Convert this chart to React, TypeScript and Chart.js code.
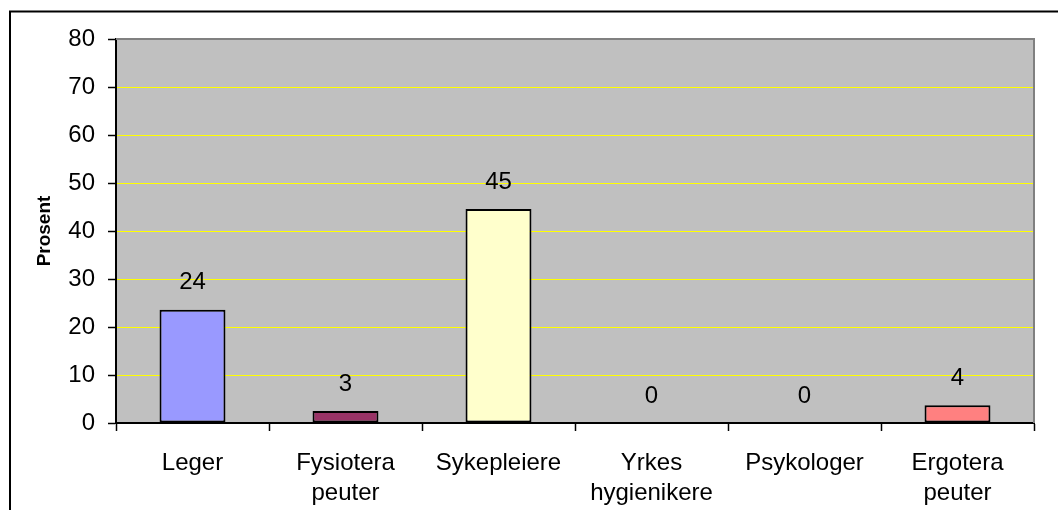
import React, { useEffect, useRef } from "react";
import { Chart, registerables } from "chart.js";

Chart.register(...registerables);

const categories: string[][] = [
  ["Leger"],
  ["Fysiotera", "peuter"],
  ["Sykepleiere"],
  ["Yrkes", "hygienikere"],
  ["Psykologer"],
  ["Ergotera", "peuter"],
];
const values = [23.6, 2.5, 44.6, 0, 0, 3.7];
const valueLabels = ["24", "3", "45", "0", "0", "4"];
const barColors = ["#9999FF", "#993366", "#FFFFCC", "#9999FF", "#9999FF", "#FF8080"];
const yMin = 0;
const yMax = 80;
const yStep = 10;
const yAxisTitle = "Prosent";

const FONT = "Arial, 'Liberation Sans', sans-serif";

export default function App() {
  const ref = useRef<HTMLCanvasElement | null>(null);

  useEffect(() => {
    const canvas = ref.current;
    if (!canvas) return;

    const framePlugin = {
      id: "frame",
      beforeDraw(chart: any) {
        const { ctx, chartArea } = chart;
        ctx.save();
        ctx.strokeStyle = "#000";
        ctx.lineWidth = 2;
        ctx.beginPath();
        ctx.moveTo(10, 512);
        ctx.lineTo(10, 11.5);
        ctx.lineTo(1060, 11.5);
        ctx.stroke();
        ctx.fillStyle = "#C0C0C0";
        ctx.fillRect(chartArea.left, chartArea.top, chartArea.right - chartArea.left, chartArea.bottom - chartArea.top);
        ctx.restore();
      },
      afterDatasetsDraw(chart: any) {
        const { ctx, chartArea } = chart;
        ctx.save();
        ctx.strokeStyle = "#808080";
        ctx.lineWidth = 2;
        ctx.beginPath();
        ctx.moveTo(chartArea.left, chartArea.top);
        ctx.lineTo(chartArea.right, chartArea.top);
        ctx.lineTo(chartArea.right, chartArea.bottom);
        ctx.stroke();
        const meta = chart.getDatasetMeta(0);
        ctx.fillStyle = "#000";
        ctx.font = `24px ${FONT}`;
        ctx.textAlign = "center";
        ctx.textBaseline = "middle";
        meta.data.forEach((bar: any, i: number) => {
          ctx.fillText(valueLabels[i], bar.x, bar.y - 27);
        });
        ctx.restore();
      },
    };

    const chart = new Chart(canvas, {
      type: "bar",
      data: {
        labels: categories,
        datasets: [
          {
            data: values,
            backgroundColor: barColors,
            borderColor: "#000",
            borderWidth: (c: any) => (values[c.dataIndex] === 0 ? 0 : 2),
            borderSkipped: false,
            barPercentage: 0.431,
            categoryPercentage: 1,
          },
        ],
      },
      options: {
        responsive: false,
        animation: false,
        layout: { padding: { top: 39, right: 24, left: 0, bottom: 0 } },
        plugins: {
          legend: { display: false },
          tooltip: { enabled: false },
          title: { display: false },
        },
        scales: {
          x: {
            afterFit(scale: any) {
              scale.height = 87;
            },
            grid: {
              offset: true,
              drawOnChartArea: false,
              drawTicks: true,
              tickLength: 8,
              tickColor: "#000",
              tickWidth: 1.5,
            },
            border: { color: "#000", width: 2 },
            ticks: {
              color: "#000",
              font: { family: FONT, size: 24, lineHeight: 30 / 24 },
              padding: 17,
              maxRotation: 0,
              autoSkip: false,
            },
          },
          y: {
            min: yMin,
            max: yMax,
            afterFit(scale: any) {
              scale.width = 116;
            },
            grid: {
              color: (c: any) => (c.tick && (c.tick.value === yMax || c.tick.value === yMin) ? "rgba(0,0,0,0)" : "#FFFF00"),
              lineWidth: 1,
              drawTicks: true,
              tickLength: 8,
              tickColor: "#000",
              tickWidth: 1.5,
            },
            border: { color: "#000", width: 2 },
            ticks: {
              stepSize: yStep,
              color: "#000",
              font: { family: FONT, size: 24 },
              padding: 13,
            },
            title: {
              display: true,
              text: yAxisTitle,
              color: "#000",
              font: { family: FONT, size: 19, weight: "bold" },
              padding: { top: 33, bottom: 0 },
            },
          },
        },
      },
      plugins: [framePlugin],
    } as any);

    return () => chart.destroy();
  }, []);

  return (
    <div style={{ position: "absolute", left: 0, top: 0, width: 1058, height: 510 }}>
      <canvas ref={ref} width={1058} height={510} style={{ display: "block" }} />
    </div>
  );
}
